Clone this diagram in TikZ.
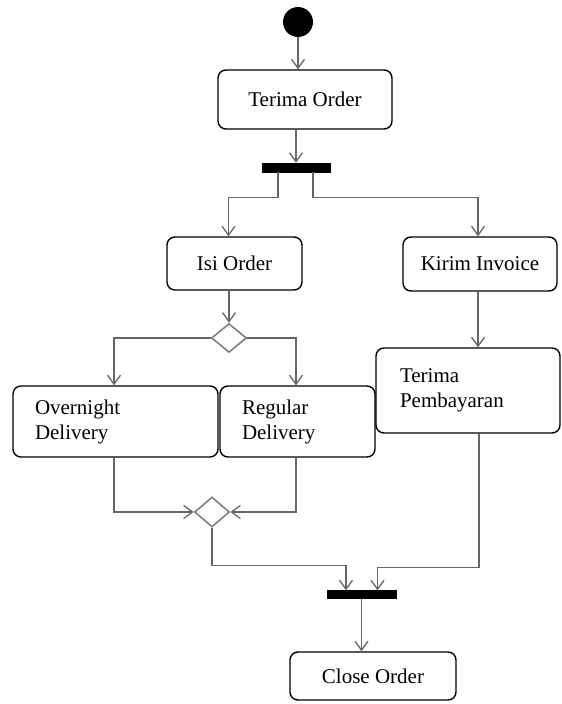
\documentclass[tikz,border=0pt]{standalone}
\usepackage{fontspec}
\setmainfont{Liberation Serif}
\usetikzlibrary{arrows.meta,shapes.geometric}

\tikzset{
  act/.style={draw, line width=1.4pt, rounded corners=8pt, inner sep=0pt,
    font=\fontsize{21}{25}\selectfont},
  actleft/.style={act, align=left, inner xsep=22pt},
  bar/.style={draw, fill=black, inner sep=0pt},
  choice/.style={draw=gray, line width=1.6pt, diamond, inner sep=0pt, fill=white},
  flow/.style={draw=gray!80!black, line width=1.3pt, -{Straight Barb[length=9pt,width=13pt]}},
  link/.style={draw=gray!80!black, line width=1.3pt}
}

\begin{document}
\begin{tikzpicture}[x=1pt, y=-1pt]
    \useasboundingbox (0,0) rectangle (562,704);

    % start and first action
    \node[circle, fill=black, minimum size=30pt, inner sep=0pt] (start) at (298,22) {};
    \node[act, minimum width=174pt, minimum height=59pt] (order) at (305,99.5) {Terima Order};
    \node[bar, minimum width=68pt, minimum height=9pt] (fork) at (296,167.5) {};

    % two branches after the fork
    \node[act, minimum width=135pt, minimum height=53pt] (isi) at (234.5,263.5) {Isi Order};
    \node[act, minimum width=154pt, minimum height=54pt] (invoice) at (480,264) {Kirim Invoice};
    \node[choice, minimum width=35pt, minimum height=29pt] (dec1) at (229,338) {};

    \node[actleft, text width=161pt, minimum height=71pt] (overnight) at (115.5,421.5) {Overnight\\Delivery};
    \node[actleft, text width=111pt, minimum height=71pt] (regular) at (297.5,421.5) {Regular\\Delivery};
    \node[actleft, inner xsep=24pt, text width=136pt, minimum height=85pt] (bayar) at (468,390.5) {Terima\\Pembayaran};

    % merge, join and end
    \node[choice, minimum width=35pt, minimum height=30pt] (dec2) at (212,512) {};
    \node[bar, minimum width=69pt, minimum height=8pt] (join) at (361.5,594.5) {};
    \node[act, minimum width=166pt, minimum height=48pt] (close) at (373,676) {Close Order};

    % flows
    \draw[flow] (start) -- (start |- order.north);
    \draw[flow] (fork |- order.south) -- (fork.north);
    \draw[flow] ([xshift=-18pt]fork.south) -- ++(0,25) -| ([xshift=-6pt]isi.north);
    \draw[flow] ([xshift=17pt]fork.south) -- ++(0,25) -| ([xshift=-2pt]invoice.north);
    \draw[flow] (dec1 |- isi.south) -- (dec1.north);
    \draw[flow] ([xshift=-2pt]invoice.south) -- ([xshift=-2pt]invoice.south |- bayar.north);
    \draw[flow] (dec1.west) -| ([xshift=-1.5pt]overnight.north);
    \draw[flow] (dec1.east) -| ([xshift=-1.5pt]regular.north);
    \draw[flow] ([xshift=-1.5pt]overnight.south) |- (dec2.west);
    \draw[flow] ([xshift=-1.5pt]regular.south) |- (dec2.east);
    \draw[flow] (dec2.south) -- ++(0,38) -| ([xshift=-15.5pt]join.north);
    \draw[flow] ([xshift=11pt]bayar.south) -- ++(0,134) -| ([xshift=16pt]join.north);
    \draw[flow] (join.south) -- (join.south |- close.north);

\end{tikzpicture}
\end{document}
